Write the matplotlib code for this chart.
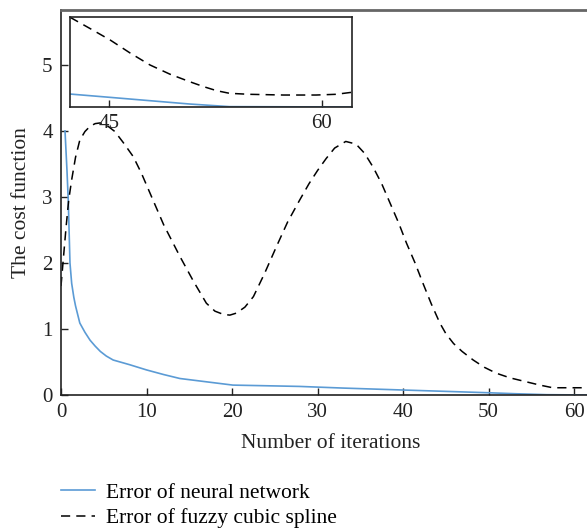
import numpy as np
import matplotlib
matplotlib.use("Agg")
import matplotlib.pyplot as plt

# main curves
nn_x = [0.47, 0.7, 0.85, 1.05, 1.25, 1.5, 1.7, 2.2, 2.8, 3.4, 4.0, 4.6, 5.3, 6.1, 8.0, 10.0, 12.0, 13.9, 17.0, 20.1, 25.6, 27.9, 33.0, 39.9, 45.0, 49.8, 53.0, 56.8, 62.0]
nn_y = [4.0, 3.4, 2.95, 2.0, 1.69, 1.48, 1.35, 1.09, 0.95, 0.83, 0.74, 0.66, 0.59, 0.53, 0.46, 0.38, 0.31, 0.25, 0.20, 0.15, 0.136, 0.13, 0.105, 0.076, 0.055, 0.035, 0.02, 0.005, 0.0]

fz_x = [0.0, 0.3, 0.6, 0.9, 1.25, 1.7, 2.2, 2.8, 3.4, 4.0, 4.56, 5.2, 6.3, 7.3, 8.45, 9.4, 10.4, 12.0, 13.9, 15.5, 17.0, 18.0, 19.0, 19.75, 20.5, 21.5, 22.5, 23.8, 25.2, 26.5, 27.9, 29.0, 30.0, 31.0, 32.0, 33.3, 34.5, 35.5, 36.5, 37.5, 38.5, 39.5, 40.4, 41.4, 42.3, 43.3, 44.3, 45.0, 45.9, 46.9, 48.2, 49.5, 50.9, 52.5, 54.4, 56.0, 57.5, 59.9, 62.0]
fz_y = [1.65, 2.1, 2.55, 2.95, 3.26, 3.6, 3.86, 3.99, 4.07, 4.11, 4.12, 4.10, 3.99, 3.82, 3.61, 3.36, 3.06, 2.58, 2.10, 1.72, 1.39, 1.27, 1.22, 1.21, 1.24, 1.33, 1.49, 1.84, 2.25, 2.62, 2.95, 3.20, 3.40, 3.58, 3.74, 3.84, 3.80, 3.66, 3.45, 3.20, 2.90, 2.60, 2.30, 2.00, 1.70, 1.38, 1.09, 0.93, 0.78, 0.66, 0.53, 0.42, 0.33, 0.26, 0.20, 0.15, 0.11, 0.11, 0.11]

# zoomed inset (relative scale)
in_x_fz = [42.27, 43.7, 45.1, 46.5, 47.9, 49.3, 50.7, 51.7, 52.6, 53.5, 54.9, 57.3, 59.6, 61.0, 62.1]
in_y_fz = [0.997, 0.87, 0.744, 0.60, 0.467, 0.365, 0.281, 0.225, 0.181, 0.152, 0.141, 0.133, 0.133, 0.141, 0.163]
in_x_nn = [42.27, 45.1, 47.9, 50.7, 53.5, 62.1]
in_y_nn = [0.144, 0.107, 0.07, 0.033, 0.004, 0.0]

blue = "#5b9bd5"
dark = "#222222"
plt.rcParams["font.family"] = ["Liberation Serif", "DejaVu Serif"]

fig = plt.figure(figsize=(5.87, 5.31), dpi=100)
ax = fig.add_axes([0.1039, 0.2561, 0.896, 0.725])
l1, = ax.plot(nn_x, nn_y, color=blue, lw=1.2, label="Error of neural network")
l2, = ax.plot(fz_x, fz_y, color="black", lw=1.1, ls=(0, (6, 4)), label="Error of fuzzy cubic spline")
ax.set_xlim(0, 61.5)
ax.set_ylim(0, 5.83)
ax.set_xticks([0, 10, 20, 30, 40, 50, 60])
ax.set_yticks([0, 1, 2, 3, 4, 5])
ax.tick_params(direction="in", length=5, width=1, labelsize=15, colors=dark, pad=6)
ax.spines["right"].set_visible(False)
for s in ["left", "bottom"]:
    ax.spines[s].set_color(dark)
    ax.spines[s].set_linewidth(1.2)
ax.spines["top"].set_color("#666666")
ax.spines["top"].set_linewidth(2)
ax.set_xlabel("Number of iterations", fontsize=15.5, color=dark)
ax.xaxis.set_label_coords(0.513, -0.1)
ax.set_ylabel("The cost function", fontsize=15.5, color=dark)
ax.yaxis.set_label_coords(-0.057, 0.50)

ins = fig.add_axes([0.1193, 0.7985, 0.4804, 0.1695])
ins.plot(in_x_nn, in_y_nn, color=blue, lw=1.2)
ins.plot(in_x_fz, in_y_fz, color="black", lw=1.1, ls=(0, (6, 4)))
ins.set_xlim(42.27, 62.13)
ins.set_ylim(0, 1.0)
ins.set_xticks([45, 60])
ins.set_yticks([])
ins.tick_params(direction="in", length=5, width=1, labelsize=15, colors=dark, pad=5)
for s in ins.spines.values():
    s.set_color(dark)
    s.set_linewidth(1.2)

fig.legend(handles=[l1, l2], loc="upper left", bbox_to_anchor=(0.1035, 0.0906),
           frameon=False, fontsize=15.5, handlelength=1.6, handletextpad=0.5,
           labelspacing=0.25, borderaxespad=0, borderpad=0)

fig.savefig("out.png", dpi=100)
